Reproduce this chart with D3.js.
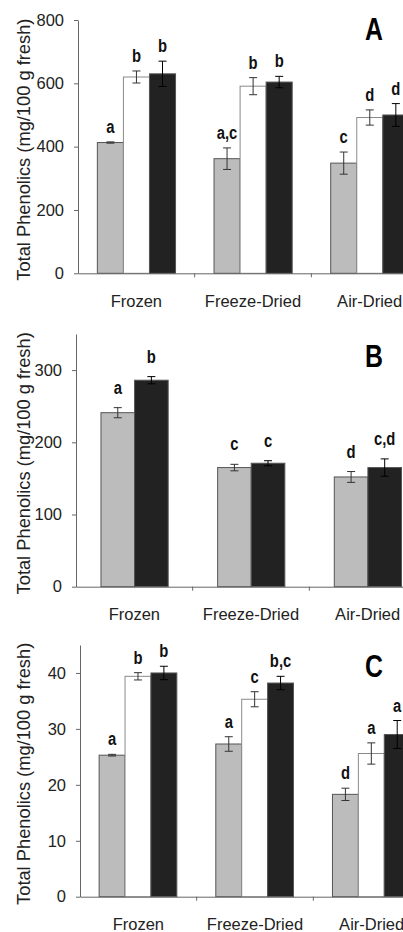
<!DOCTYPE html>
<html>
<head>
<meta charset="utf-8">
<script src="https://cdn.jsdelivr.net/npm/d3@7"></script>
<style>
body { margin: 0; background: #fff; }
</style>
</head>
<body>
<script>
const categories = ["Frozen", "Freeze-Dried", "Air-Dried"];

// panel A: three series per category
const aValues = [[413, 620, 630], [362, 591, 604], [348, 492, 500]];
const aErrors = [[2, 19, 40], [34, 27, 18], [35, 24, 36]];
const aLetters = [["a", "b", "b"], ["a,c", "b", "b"], ["c", "d", "d"]];
const aTicks = [0, 200, 400, 600, 800];
const aMax = 800;

// panel B: two series per category
const bValues = [[241, 286], [165, 171], [152, 165]];
const bErrors = [[7, 5], [4.5, 3.5], [7.5, 12]];
const bLetters = [["a", "b"], ["c", "c"], ["d", "c,d"]];
const bTicks = [0, 100, 200, 300];
const bMax = 350;

// panel C
const cValues = [[25.3, 39.4, 40.0], [27.3, 35.3, 38.2], [18.3, 25.6, 29.0]];
const cErrors = [[0.15, 0.65, 1.2], [1.3, 1.35, 1.2], [1.1, 1.9, 2.5]];
const cLetters = [["a", "b", "b"], ["a", "c", "b,c"], ["d", "a", "a"]];
const cTicks = [0, 10, 20, 30, 40];
const cMax = 45;

const fills3 = ["#bcbcbc", "#ffffff", "#222222"];
const fills2 = ["#bcbcbc", "#222222"];

const W = 403, H = 932;
const sans = "'Liberation Sans', Arial, Helvetica, sans-serif";

const svg = d3.select("body").append("svg")
    .attr("width", W).attr("height", H)
    .style("display", "block");

function drawPanel(p) {
    const g = svg.append("g");
    const x = d3.scaleBand().domain(categories)
        .range([p.left, p.left + 350]).padding(0);
    const nSer = p.values[0].length;
    const xs = d3.scaleBand().domain(d3.range(nSer))
        .range([x.bandwidth() * p.inner[0], x.bandwidth() * p.inner[1]]).padding(0);
    const y = d3.scaleLinear().domain([0, p.max]).range([p.bottom, p.top]);

    const rows = [];
    categories.forEach((c, i) => {
        p.values[i].forEach((v, j) => {
            rows.push({cat: c, s: j, v: v, e: p.errors[i][j], lab: p.letters[i][j]});
        });
    });

    // bars
    g.selectAll("rect.bar").data(rows).join("rect")
        .attr("class", "bar")
        .attr("x", d => x(d.cat) + xs(d.s))
        .attr("y", d => y(d.v))
        .attr("width", xs.bandwidth())
        .attr("height", d => y(0) - y(d.v))
        .attr("fill", d => p.fills[d.s])
        .attr("stroke", d => p.fills[d.s] === "#ffffff" ? "#8a8a8a" : "#555")
        .attr("stroke-width", 1);

    // error bars
    const cx = d => x(d.cat) + xs(d.s) + xs.bandwidth() / 2;
    const eb = g.selectAll("g.err").data(rows).join("g").attr("class", "err")
        .attr("stroke", d => d.s === nSer - 1 ? "#000" : "#333")
        .attr("stroke-width", 1);
    eb.append("line")
        .attr("x1", cx).attr("x2", cx)
        .attr("y1", d => y(d.v + d.e)).attr("y2", d => y(d.v - d.e));
    eb.append("line")
        .attr("x1", d => cx(d) - 4).attr("x2", d => cx(d) + 4)
        .attr("y1", d => y(d.v + d.e)).attr("y2", d => y(d.v + d.e));
    eb.append("line")
        .attr("x1", d => cx(d) - 4).attr("x2", d => cx(d) + 4)
        .attr("y1", d => y(d.v - d.e)).attr("y2", d => y(d.v - d.e));

    // significance letters, condensed bold
    g.selectAll("text.sig").data(rows).join("text")
        .attr("class", "sig")
        .attr("transform", d => `translate(${cx(d)},${y(d.v + d.e) - p.gap}) scale(0.78,1)`)
        .attr("text-anchor", "middle")
        .attr("font-family", sans)
        .attr("font-weight", "bold")
        .attr("font-size", 19)
        .attr("fill", "#111")
        .text(d => d.lab);

    // y axis
    const ya = g.append("g")
        .attr("transform", `translate(${p.left},0)`)
        .call(d3.axisLeft(y).tickValues(p.ticks).tickSize(4).tickSizeOuter(0).tickPadding(10));
    ya.select(".domain").attr("stroke", "#666");
    ya.selectAll(".tick line").attr("stroke", "#666");
    ya.selectAll("text").attr("font-family", sans).attr("font-size", 16.5).attr("fill", "#222");

    // x axis with ticks on category boundaries
    const xa = g.append("g")
        .attr("transform", `translate(0,${p.bottom})`)
        .call(d3.axisBottom(x).tickSize(0).tickPadding(22));
    xa.select(".domain").attr("stroke", "#666");
    xa.selectAll("text").attr("font-family", sans).attr("font-size", 16.5).attr("fill", "#222");
    g.selectAll("line.bound").data(categories).join("line")
        .attr("class", "bound")
        .attr("x1", d => x(d) + x.bandwidth()).attr("x2", d => x(d) + x.bandwidth())
        .attr("y1", p.bottom).attr("y2", p.bottom + 4)
        .attr("stroke", "#666");

    // y title
    g.append("text")
        .attr("transform", `translate(29.5,${(p.top + p.bottom) / 2 + 3}) rotate(-90)`)
        .attr("text-anchor", "middle")
        .attr("font-family", sans)
        .attr("font-size", 18.3)
        .attr("fill", "#222")
        .text("Total Phenolics (mg/100 g fresh)");

    // panel letter
    g.append("text")
        .attr("transform", `translate(374,${p.letterY}) scale(0.8,1)`)
        .attr("text-anchor", "middle")
        .attr("font-family", sans)
        .attr("font-weight", "bold")
        .attr("font-size", 31)
        .attr("fill", "#000")
        .text(p.name);
}

drawPanel({name: "A", values: aValues, errors: aErrors, letters: aLetters, ticks: aTicks, max: aMax,
    fills: fills3, left: 78, top: 20, bottom: 273.3, inner: [0.166, 0.836], gap: 9, letterY: 40});
drawPanel({name: "B", values: bValues, errors: bErrors, letters: bLetters, ticks: bTicks, max: bMax,
    fills: fills2, left: 76, top: 334, bottom: 586.7, inner: [0.214, 0.79], gap: 14, letterY: 367});
drawPanel({name: "C", values: cValues, errors: cErrors, letters: cLetters, ticks: cTicks, max: cMax,
    fills: fills3, left: 80, top: 645, bottom: 896.7, inner: [0.164, 0.83], gap: 9, letterY: 677});
</script>
</body>
</html>
